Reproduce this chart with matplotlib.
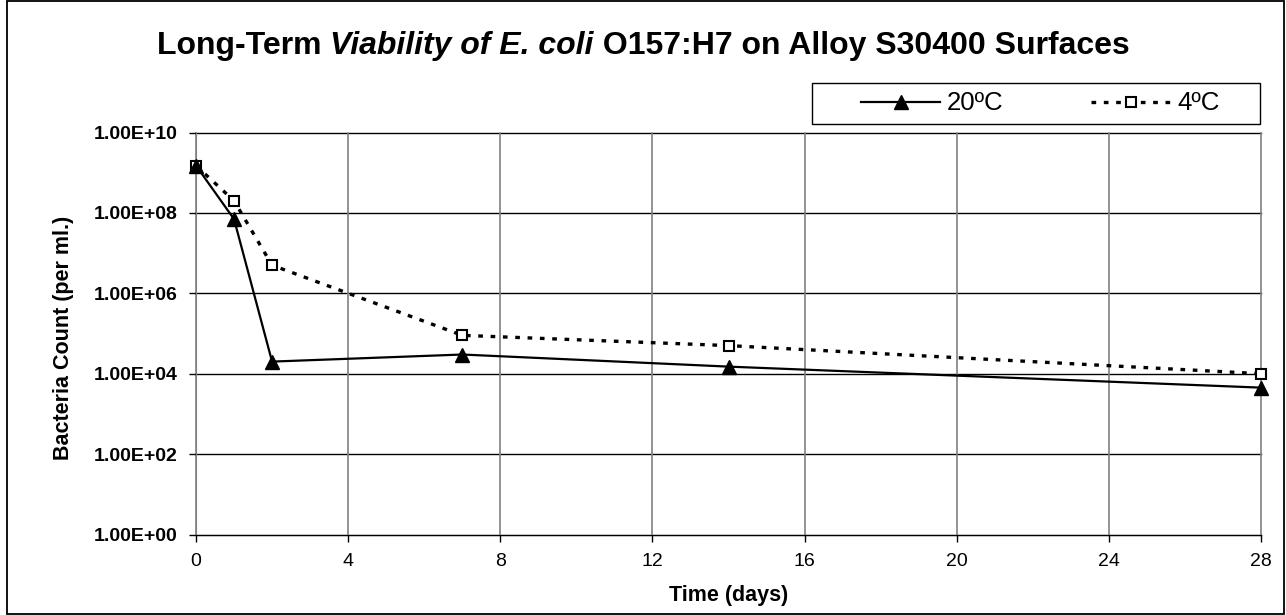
import matplotlib
matplotlib.use("Agg")
import matplotlib.pyplot as plt
from matplotlib.ticker import FixedLocator, FuncFormatter
from matplotlib.patches import Rectangle

plt.rcParams['font.family'] = ['Liberation Sans', 'DejaVu Sans']

# ---- data ----
days = [0, 1, 2, 7, 14, 28]
count_20c = [1.5e9, 7.0e7, 2.0e4, 3.0e4, 1.5e4, 4.5e3]
count_4c = [1.5e9, 2.0e8, 5.0e6, 9.0e4, 5.0e4, 1.0e4]
series_labels = ["20ºC", "4ºC"]
x_ticks = [0, 4, 8, 12, 16, 20, 24, 28]
y_ticks = [1e0, 1e2, 1e4, 1e6, 1e8, 1e10]

W, H = 1286, 615
fig = plt.figure(figsize=(W / 100, H / 100), dpi=100)
ax = fig.add_axes([196 / W, 1 - 534.5 / H, (1261 - 196) / W, (534.5 - 132.5) / H])

ax.set_yscale('log')
ax.set_xlim(0, 28)
ax.set_ylim(1e0, 1e10)
ax.yaxis.set_major_locator(FixedLocator(y_ticks))
ax.yaxis.set_minor_locator(FixedLocator([]))
ax.yaxis.set_major_formatter(FuncFormatter(lambda v, p: "%.2E" % v))
ax.set_xticks(x_ticks)

# gridlines
for yt in y_ticks:
    ax.axhline(yt, color='black', lw=1.0, zorder=1, clip_on=False)
for xt in x_ticks:
    ax.axvline(xt, color='#808080', lw=1.2, zorder=1, clip_on=False)

ax.plot(days, count_4c, linestyle=(0, (1.4, 2.3)), color='black', lw=2.4,
        marker='s', markersize=7, markerfacecolor='white', markeredgecolor='black',
        markeredgewidth=1.5, label=series_labels[1], zorder=3, clip_on=False)
ax.plot(days, count_20c, linestyle='-', color='black', lw=1.6,
        marker='^', markersize=10, markerfacecolor='black', markeredgecolor='black',
        label=series_labels[0], zorder=4, clip_on=False)

for s in ['top', 'right']:
    ax.spines[s].set_visible(False)
ax.spines['left'].set_color('#808080')
ax.spines['bottom'].set_color('black')

ax.tick_params(axis='y', direction='out', length=5, width=1, labelsize=14, pad=8)
ax.tick_params(axis='x', direction='out', length=5, width=1, labelsize=14, pad=8)
for lab in ax.get_yticklabels():
    lab.set_fontweight('bold')

ax.set_xlabel("Time (days)", fontsize=15.5, fontweight='bold', va='center')
ax.xaxis.set_label_coords(0.5, (534.5 - 595) / 402)
ax.set_ylabel("Bacteria Count (per ml.)", fontsize=15.5, fontweight='bold', va='center')
ax.yaxis.set_label_coords((63.5 - 196) / 1065, (534.5 - 338) / 402)

# legend (contents) + its box
handles, labels = ax.get_legend_handles_labels()
leg = fig.legend(handles[::-1], labels[::-1], ncol=2, loc='center',
                 bbox_to_anchor=(1040 / W, 1 - 103.5 / H),
                 fontsize=18.5, frameon=False, handlelength=3.1,
                 borderpad=0, borderaxespad=0, handletextpad=0.25, columnspacing=3.4)
fig.add_artist(Rectangle((812 / W, 1 - 124 / H), (1260 - 812) / W, 41 / H,
                         transform=fig.transFigure, fill=False, edgecolor='black', lw=1.0))

# title with mixed italic
fig.canvas.draw()
r = fig.canvas.get_renderer()
parts = [("Long-Term ", 'normal'), ("Viability of E. coli", 'italic'),
         (" O157:H7 on Alloy S30400 Surfaces", 'normal')]
texts = [fig.text(0, 0, t, fontsize=23, fontweight='bold', style=st, va='center')
         for t, st in parts]
widths = [t.get_window_extent(r).width for t in texts]
total = sum(widths)
x0 = 643 - total / 2
ty = 1 - 46 / H
for t, w in zip(texts, widths):
    t.set_position((x0 / W, ty))
    x0 += w

# chart border
fig.add_artist(Rectangle((7 / W, 1 / H), (1284 - 7) / W, (614 - 1) / H, transform=fig.transFigure,
                         fill=False, edgecolor='black', lw=1.3))

fig.savefig("out.png", dpi=100)
